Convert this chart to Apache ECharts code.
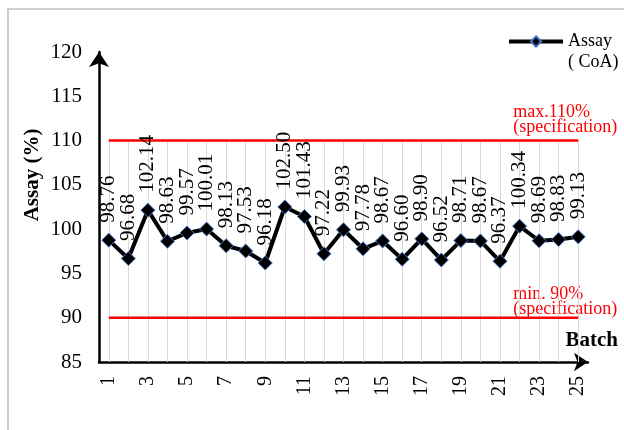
<!DOCTYPE html>
<html>
<head>
<meta charset="utf-8">
<script src="https://cdn.jsdelivr.net/npm/echarts@6/dist/echarts.min.js"></script>
<style>
  html, body { margin: 0; padding: 0; background: #ffffff; }
  #chart { width: 624px; height: 430px; }
</style>
</head>
<body>
<div id="chart"></div>
<script>
// Batch numbers on the category axis
const batches = ['1', '2', '3', '4', '5', '6', '7', '8', '9', '10', '11', '12', '13',
                 '14', '15', '16', '17', '18', '19', '20', '21', '22', '23', '24', '25'];

// Assay results (%) per batch, from the certificates of analysis
const assay = [98.76, 96.68, 102.14, 98.63, 99.57, 100.01, 98.13, 97.53, 96.18, 102.50,
               101.43, 97.22, 99.93, 97.78, 98.67, 96.60, 98.90, 96.52, 98.71, 98.67,
               96.37, 100.34, 98.69, 98.83, 99.13];

// Specification limits (%)
const specMax = 110;
const specMin = 90;

// Value axis range and step
const yMin = 85;
const yMax = 120;
const yStep = 5;

const serif = '"Liberation Serif", "Times New Roman", serif';

const chart = echarts.init(document.getElementById('chart'), null, { renderer: 'canvas' });

// vertical drop lines from the upper limit down to the category axis
const dropLines = batches.map(b => [{ coord: [b, yMin] }, { coord: [b, specMax] }]);

const limitSeries = (name, value, extra) => Object.assign({
  name: name,
  type: 'line',
  data: [[batches[0], value], [batches[batches.length - 1], value]],
  symbol: 'none',
  silent: true,
  lineStyle: { color: '#ff0000', width: 2.5 },
  z: 3
}, extra || {});

const option = {
  animation: false,
  backgroundColor: '#ffffff',
  grid: { left: 99, right: 36, top: 52, bottom: 68, containLabel: false },
  legend: {
    data: ['Assay'],
    left: 507,
    top: 10,
    padding: 0,
    itemWidth: 54,
    itemHeight: 13,
    itemGap: 5,
    lineStyle: { width: 4 },
    formatter: () => '\nAssay\n( CoA)',
    textStyle: { fontFamily: serif, fontSize: 18, lineHeight: 21, color: '#000000' }
  },
  xAxis: {
    type: 'category',
    data: batches,
    boundaryGap: true,
    axisLine: {
      show: true,
      lineStyle: { color: '#000000', width: 2.5 },
      symbol: ['none', 'arrow'],
      symbolSize: [14, 14],
      symbolOffset: [0, 0]
    },
    axisTick: { show: false },
    splitLine: { show: false },
    axisLabel: {
      interval: 1,
      rotate: 90,
      margin: 14,
      fontFamily: serif,
      fontSize: 20,
      color: '#000000'
    }
  },
  yAxis: {
    type: 'value',
    min: yMin,
    max: yMax,
    interval: yStep,
    axisLine: {
      show: true,
      lineStyle: { color: '#000000', width: 2.5 },
      symbol: ['none', 'arrow'],
      symbolSize: [15, 15],
      symbolOffset: [0, 0]
    },
    axisTick: { show: false },
    splitLine: { show: false },
    axisLabel: {
      margin: 17,
      fontFamily: serif,
      fontSize: 21,
      color: '#000000'
    }
  },
  series: [
    limitSeries('max', specMax, {
      markLine: {
        silent: true,
        symbol: 'none',
        label: { show: false },
        lineStyle: { color: '#d9d9d9', width: 1, type: 'solid' },
        data: dropLines,
        z: 1
      }
    }),
    limitSeries('min', specMin),
    {
      name: 'Assay',
      type: 'line',
      data: assay,
      symbol: 'diamond',
      symbolSize: 14,
      showSymbol: true,
      showAllSymbol: true,
      lineStyle: { color: '#000000', width: 4 },
      itemStyle: { color: '#000000', borderColor: '#4472c4', borderWidth: 1 },
      z: 5,
      labelLayout: { hideOverlap: false },
      label: {
        show: true,
        position: 'top',
        distance: 10,
        rotate: 90,
        align: 'left',
        verticalAlign: 'middle',
        fontFamily: serif,
        fontSize: 21,
        color: '#000000',
        formatter: p => p.value.toFixed(2)
      }
    }
  ]
};

chart.setOption(option);

// annotations placed from the axis scale
const yHi = chart.convertToPixel({ yAxisIndex: 0 }, specMax);
const yLo = chart.convertToPixel({ yAxisIndex: 0 }, specMin);
const xLast = chart.convertToPixel({ xAxisIndex: 0 }, batches[batches.length - 1]);

chart.setOption({
  graphic: [
    {
      type: 'rect',
      silent: true,
      z: -10,
      shape: { x: 8, y: 9, width: 720, height: 520 },
      style: { fill: 'none', stroke: '#bfbfbf', lineWidth: 1.5 }
    },
    {
      type: 'text',
      silent: true,
      x: xLast - 65,
      y: yHi - 6,
      style: {
        text: 'max.110%\n(specification)',
        font: '18px ' + serif,
        lineHeight: 15,
        fill: '#ff0000',
        verticalAlign: 'bottom',
        align: 'left'
      }
    },
    {
      type: 'text',
      silent: true,
      x: xLast - 65,
      y: yLo - 1,
      style: {
        text: 'min. 90%\n(specification)',
        font: '18px ' + serif,
        lineHeight: 15,
        fill: '#ff0000',
        verticalAlign: 'bottom',
        align: 'left'
      }
    },
    {
      type: 'text',
      silent: true,
      x: 618,
      y: 341,
      style: {
        text: 'Batch',
        font: 'bold 21px ' + serif,
        fill: '#000000',
        align: 'right',
        verticalAlign: 'middle'
      }
    },
    {
      type: 'text',
      silent: true,
      x: 33,
      y: 175,
      rotation: Math.PI / 2,
      style: {
        text: 'Assay (%)',
        font: 'bold 21px ' + serif,
        fill: '#000000',
        align: 'center',
        verticalAlign: 'middle'
      }
    }
  ]
});
</script>
</body>
</html>
